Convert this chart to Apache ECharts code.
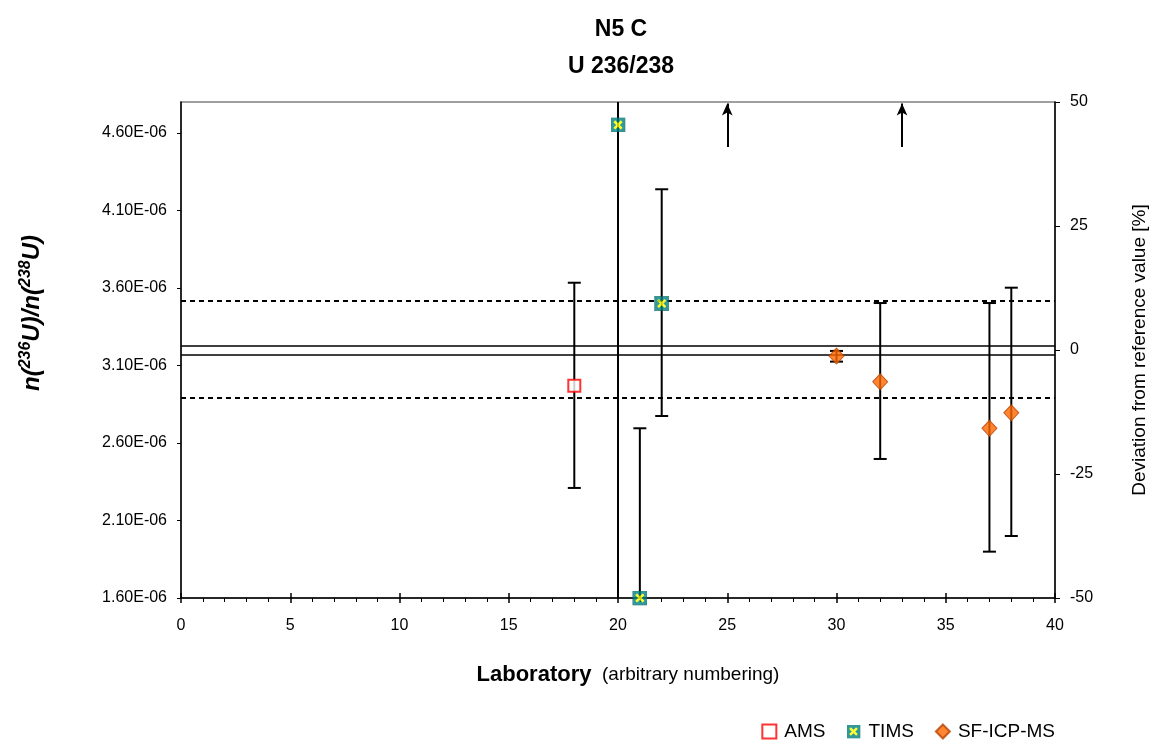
<!DOCTYPE html>
<html>
<head>
<meta charset="utf-8">
<script src="https://cdn.jsdelivr.net/npm/echarts@6/dist/echarts.min.js"></script>
<style>html,body{margin:0;padding:0;background:#fff}#c{width:1160px;height:742px}</style>
</head>
<body>
<div id="c"></div>
<script>
// ---- data ----
const amsLab = [18];
const amsValue = [2.97e-6];
const amsLow = [2.31e-6];
const amsHigh = [3.634e-6];

const timsLab = [20, 21, 22];
const timsValue = [4.652e-6, 1.60e-6, 3.50e-6];
const timsLow = [1.0e-6, 1.0e-6, 2.774e-6];
const timsHigh = [4.89e-6, 2.695e-6, 4.237e-6];

const sfLab = [30, 32, 37, 38];
const sfValue = [3.161e-6, 2.995e-6, 2.695e-6, 2.795e-6];
const sfLow = [3.125e-6, 2.497e-6, 1.899e-6, 2.0e-6];
const sfHigh = [3.194e-6, 3.503e-6, 3.503e-6, 3.602e-6];

const refBand = [3.172e-6, 3.226e-6];     // solid lines
const tolLines = [2.892e-6, 3.518e-6];    // dotted lines
const arrowLab = [25, 33];
const arrowFrom = 4.51e-6;
const arrowTo = 4.79e-6;

const xMin = 0, xMax = 40, xStep = 5;
const yMin = 1.6e-6, yMax = 4.8e-6, yStep = 0.5e-6;
const devTicks = [-50, -25, 0, 25, 50];
const seriesNames = ['AMS', 'TIMS', 'SF-ICP-MS'];

// ---- build ----
const FONT = 'Liberation Sans, Arial, sans-serif';
const timsSvg = "<svg xmlns='http://www.w3.org/2000/svg' width='52' height='52' viewBox='0 0 13 13'>" +
  "<rect x='0.3' y='0.3' width='12.4' height='12.4' fill='#008080' stroke='#005a5a' stroke-width='0.6'/>" +
  "<path d='M3.3 3.3 L9.7 9.7 M9.7 3.3 L3.3 9.7' stroke='#FFFF00' stroke-width='2.2'/></svg>";
const timsIcon = 'image://data:image/svg+xml;charset=utf-8,' + encodeURIComponent(timsSvg);

const errData = [];
amsLab.forEach((x, i) => errData.push([x, amsLow[i], amsHigh[i]]));
timsLab.forEach((x, i) => errData.push([x, timsLow[i], timsHigh[i]]));
sfLab.forEach((x, i) => errData.push([x, sfLow[i], sfHigh[i]]));

function renderErr(params, api) {
  const x = api.value(0);
  const lo = api.coord([x, api.value(1)]);
  const hi = api.coord([x, api.value(2)]);
  const cs = params.coordSys;
  const top = cs.y, bot = cs.y + cs.height;
  const yLo = Math.min(Math.max(lo[1], top), bot);
  const yHi = Math.min(Math.max(hi[1], top), bot);
  const cap = 6.5;
  const st = { stroke: '#000', lineWidth: 2 };
  const children = [{ type: 'line', shape: { x1: lo[0], y1: yLo, x2: lo[0], y2: yHi }, style: st }];
  if (lo[1] <= bot && lo[1] >= top) children.push({ type: 'line', shape: { x1: lo[0] - cap, y1: yLo, x2: lo[0] + cap, y2: yLo }, style: st });
  if (hi[1] >= top && hi[1] <= bot) children.push({ type: 'line', shape: { x1: hi[0] - cap, y1: yHi, x2: hi[0] + cap, y2: yHi }, style: st });
  return { type: 'group', children };
}

const refMarks = [];
refBand.forEach(v => refMarks.push([
  { coord: [xMin, v], symbol: 'none', lineStyle: { type: 'solid', color: '#000', width: 1.6 } },
  { coord: [xMax, v], symbol: 'none' }
]));
tolLines.forEach(v => refMarks.push([
  { coord: [xMin, v], symbol: 'none', lineStyle: { type: [5, 4], color: '#000', width: 2.2 } },
  { coord: [xMax, v], symbol: 'none' }
]));
arrowLab.forEach(x => refMarks.push([{ coord: [x, arrowFrom], symbol: 'none' }, { coord: [x, arrowTo], symbol: 'arrow' }]));

const axisLineStyle = { color: '#000', width: 1.5 };
const option = {
  animation: false,
  backgroundColor: '#fff',
  title: {
    text: 'N5 C\nU 236/238', left: 616, top: 6, textAlign: 'center',
    textStyle: { fontFamily: FONT, fontSize: 23, fontWeight: 'bold', lineHeight: 37, color: '#000' }
  },
  grid: { left: 181, right: 105, top: 102, bottom: 144, show: true, borderColor: '#808080', borderWidth: 1.5, backgroundColor: 'transparent' },
  legend: {
    data: [
      { name: 'AMS', icon: 'rect' },
      { name: 'TIMS', icon: timsIcon },
      { name: 'SF-ICP-MS', icon: 'diamond' }
    ],
    right: 100, top: 717, itemWidth: 14, itemHeight: 14, itemGap: 21,
    textStyle: { fontFamily: FONT, fontSize: 19, color: '#000', padding: [0, 0, 0, 3] }
  },
  xAxis: [
    {
      type: 'value', min: xMin, max: xMax, interval: xStep, position: 'bottom',
      axisLine: { onZero: false, lineStyle: axisLineStyle },
      axisTick: { show: true, length: 5, lineStyle: { color: '#000', width: 1.5 } },
      minorTick: { show: true, splitNumber: 5, length: 4, lineStyle: { color: '#000', width: 1 } },
      splitLine: { show: false },
      axisLabel: { fontFamily: FONT, fontSize: 16, color: '#000', margin: 20 }
    },
    {
      type: 'value', min: xMin, max: xMax, interval: xStep, position: 'bottom',
      axisLine: { show: false, onZero: false },
      axisTick: { show: true, inside: true, length: 5, lineStyle: { color: '#000', width: 1.5 } },
      splitLine: { show: false }, axisLabel: { show: false }
    }
  ],
  yAxis: [
    {
      type: 'value', min: yMin, max: yMax, interval: yStep, position: 'left',
      axisLine: { show: true, onZero: false, lineStyle: axisLineStyle },
      axisTick: { show: true, length: 4, lineStyle: { color: '#000', width: 1 } },
      splitLine: { show: false },
      axisLabel: {
        fontFamily: FONT, fontSize: 16, color: '#000', margin: 14, showMaxLabel: false,
        formatter: v => (v / 1e-6).toFixed(2) + 'E-06'
      }
    },
    {
      type: 'value', min: devTicks[0], max: devTicks[devTicks.length - 1], interval: 25, position: 'right',
      axisLine: { show: true, onZero: false, lineStyle: axisLineStyle },
      axisTick: { show: true, length: 5, lineStyle: { color: '#000', width: 1 } },
      splitLine: { show: false },
      axisLabel: { fontFamily: FONT, fontSize: 16, color: '#000', margin: 15 }
    }
  ],
  graphic: [
    {
      type: 'text', x: 31, y: 313, rotation: Math.PI / 2,
      style: {
        text: '{m|n(}{s|236}{m|U)/n(}{s|238}{m|U)}',
        align: 'center', verticalAlign: 'middle',
        rich: {
          m: { fontFamily: FONT, fontSize: 24, fontWeight: 'bold', fontStyle: 'italic', lineHeight: 26, verticalAlign: 'bottom', fill: '#000' },
          s: { fontFamily: FONT, fontSize: 16, fontWeight: 'bold', fontStyle: 'italic', lineHeight: 26, verticalAlign: 'top', fill: '#000' }
        }
      }
    },
    {
      type: 'text', x: 1140, y: 350, rotation: Math.PI / 2,
      style: { text: 'Deviation from reference value [%]', align: 'center', verticalAlign: 'middle', fontFamily: FONT, fontSize: 19, fill: '#000' }
    },
    {
      type: 'text', x: 628, y: 675,
      style: {
        text: '{b|Laboratory}{n|  (arbitrary numbering)}',
        align: 'center', verticalAlign: 'middle',
        rich: {
          b: { fontFamily: FONT, fontSize: 22, fontWeight: 'bold', fill: '#000' },
          n: { fontFamily: FONT, fontSize: 19, fill: '#000' }
        }
      }
    }
  ],
  series: [
    {
      type: 'custom', name: 'err', renderItem: renderErr, data: errData, clip: true, silent: true, z: 2,
      encode: { x: 0, y: [1, 2] },
      markLine: { silent: true, symbol: ['none', 'none'], symbolSize: [8, 12], label: { show: false }, data: refMarks, lineStyle: { color: '#000', width: 2, type: 'solid' } }
    },
    {
      type: 'scatter', name: seriesNames[0], z: 5,
      data: amsLab.map((x, i) => [x, amsValue[i]]),
      symbol: 'rect', symbolSize: 12,
      itemStyle: { color: '#fff', borderColor: '#FF0000', borderWidth: 2 }
    },
    {
      type: 'scatter', name: seriesNames[1], z: 5,
      data: timsLab.map((x, i) => [x, timsValue[i]]),
      symbol: timsIcon, symbolSize: 15,
      itemStyle: { color: '#008080' }
    },
    {
      type: 'scatter', name: seriesNames[2], z: 5,
      data: sfLab.map((x, i) => [x, sfValue[i]]),
      symbol: 'diamond', symbolSize: [15, 16],
      itemStyle: { color: '#FF6600', borderColor: '#B84400', borderWidth: 1 }
    }
  ]
};
const chart = echarts.init(document.getElementById('c'));
chart.setOption(option);
</script>
</body>
</html>
